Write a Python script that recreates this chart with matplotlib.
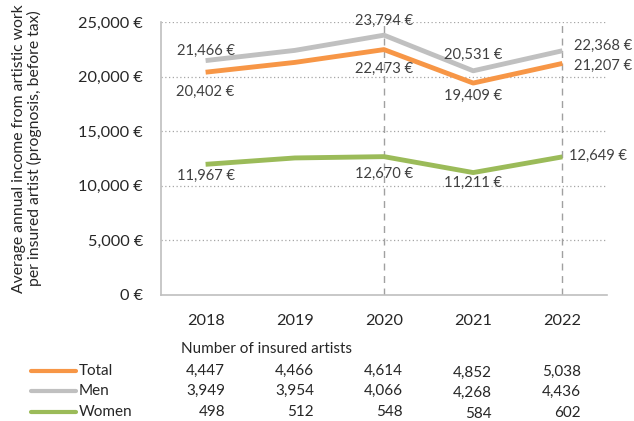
import matplotlib.pyplot as plt
import numpy as np

plt.rcParams['font.family'] = ['Lato', 'DejaVu Sans']

years = ["2018", "2019", "2020", "2021", "2022"]
total = [20402, 21300, 22473, 19409, 21207]
men = [21466, 22400, 23794, 20531, 22368]
women = [11967, 12550, 12670, 11211, 12649]

count_total = [4447, 4466, 4614, 4852, 5038]
count_men = [3949, 3954, 4066, 4268, 4436]
count_women = [498, 512, 548, 584, 602]

series_names = ["Total", "Men", "Women"]
colors = ["#F79646", "#C0C0C0", "#9BBB59"]

W, H = 634, 421
fig = plt.figure(figsize=(W / 100, H / 100), dpi=100)
ax = fig.add_axes([161 / W, 1 - 295 / H, 446 / W, 273 / H])

x = np.arange(len(years))
for vals, c in zip([total, men, women], colors):
    ax.plot(x, vals, color=c, linewidth=3.5, solid_capstyle="butt", zorder=3)

ax.set_xlim(-0.5, 4.5)
ax.set_ylim(0, 25000)
ax.set_yticks(np.arange(0, 25001, 5000))
ax.set_yticklabels([f"{v:,} €" for v in range(0, 25001, 5000)], fontsize=11.7, color="#262626")
ax.set_xticks(x)
ax.set_xticklabels(years, fontsize=11.7, color="#262626")
ax.tick_params(axis="y", length=0, pad=13)
ax.tick_params(axis="x", length=0, pad=14)

for v in range(5000, 25001, 5000):
    ax.axhline(v, color="#A6A6A6", linestyle=(0, (1, 2)), linewidth=0.9, zorder=1)
for xi in [2, 4]:
    ax.axvline(xi, color="#A0A0A0", linestyle=(0, (5, 4)), linewidth=1.0, zorder=1)

for s in ["top", "right"]:
    ax.spines[s].set_visible(False)
for s in ["left", "bottom"]:
    ax.spines[s].set_color("#BFBFBF")
    ax.spines[s].set_linewidth(1.2)

fig.text(27 / W, 1 - 148.5 / H,
         "Average annual income from artistic work\nper insured artist (prognosis, before tax)",
         rotation=90, ha="center", va="center", multialignment="center",
         fontsize=11.3, color="#262626", linespacing=1.15)

# data labels: (series, index, dx px, dy px, ha)
px = 0.72
label_pos = [
    (men, 0, 0, 10, "center"), (total, 0, 0, -20, "center"), (women, 0, 0, -12, "center"),
    (men, 2, 0, 14, "center"), (total, 2, 0, -19, "center"), (women, 2, 0, -17, "center"),
    (men, 3, 0, 16, "center"), (total, 3, 0, -13, "center"), (women, 3, 0, -10, "center"),
    (men, 4, 12, 5, "left"), (total, 4, 12, -2, "left"), (women, 4, 7, 1, "left"),
]
for vals, i, dx, dy, ha in label_pos:
    ax.annotate(f"{vals[i]:,} €", (x[i], vals[i]), xytext=(dx * px, dy * px),
                textcoords="offset points", ha=ha, va="center",
                fontsize=10.6, color="#404040", zorder=4)

# table of insured artists
fig.text(181 / W, 1 - 349 / H, "Number of insured artists", fontsize=11,
         color="#262626", va="center", ha="left")
col_x = [225, 314, 403, 492, 581]
col_dy = [0, 0, 0, 2, 1]
row_y = [371, 391, 412]
for name, c, counts, ry in zip(series_names, colors, [count_total, count_men, count_women], row_y):
    yy = 1 - ry / H
    fig.add_artist(plt.Line2D([31 / W, 76 / W], [yy, yy], color=c, linewidth=3,
                              solid_capstyle="round"))
    fig.text(79 / W, yy, name, fontsize=11, color="#262626", va="center", ha="left")
    for cx, dy, v in zip(col_x, col_dy, counts):
        fig.text(cx / W, 1 - (ry + dy) / H, f"{v:,}", fontsize=11, color="#262626",
                 va="center", ha="right")

fig.savefig("out.png", dpi=100)
